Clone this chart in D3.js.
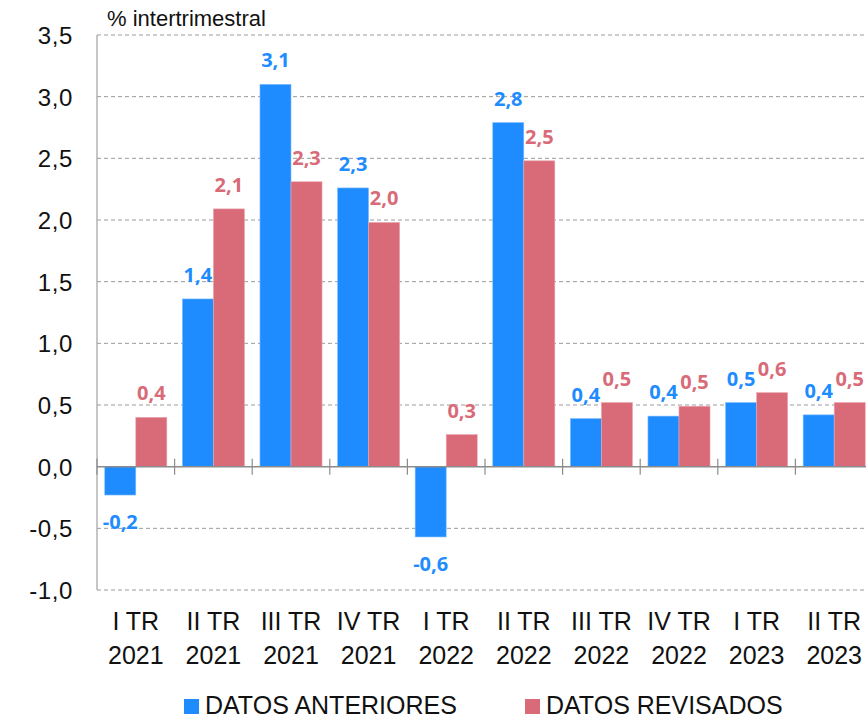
<!DOCTYPE html>
<html>
<head>
<meta charset="utf-8">
<script src="https://cdn.jsdelivr.net/npm/d3@7"></script>
<style>
  body { margin: 0; background: #fff; }
  svg { display: block; font-family: "Liberation Sans", Arial, sans-serif; }
</style>
</head>
<body>
<div id="app"></div>
<script>
const width = 866,
    height = 720;

// quarters (two-line labels)
const quarters = ["I TR", "II TR", "III TR", "IV TR", "I TR", "II TR", "III TR", "IV TR", "I TR", "II TR"];
const years = ["2021", "2021", "2021", "2021", "2022", "2022", "2022", "2022", "2023", "2023"];

const seriesNames = ["DATOS ANTERIORES", "DATOS REVISADOS"];
const anteriores = [-0.23, 1.36, 3.10, 2.26, -0.57, 2.79, 0.39, 0.41, 0.52, 0.42];
const revisados = [0.40, 2.09, 2.31, 1.98, 0.26, 2.48, 0.52, 0.49, 0.60, 0.52];

const yTicks = [-1, -0.5, 0, 0.5, 1, 1.5, 2, 2.5, 3, 3.5];

const colors = ["#1E8CFF", "#D96B78"];

const plotLeft = 97, plotTop = 35, plotBottom = 590, step = 77.6;

const cats = quarters.map((q, i) => i);

const x0 = d3.scaleBand().domain(cats).range([plotLeft, plotLeft + step * cats.length]);
const x1 = d3.scaleBand().domain([0, 1]).range([0, x0.bandwidth()]).paddingOuter(0.25);
const y = d3.scaleLinear().domain([-1, 3.5]).range([plotBottom, plotTop]);

const fmt = v => v.toFixed(1).replace(".", ",");

const svg = d3.select("#app")
    .append("svg")
    .attr("width", width)
    .attr("height", height);

//Gridlines
svg.append("g").selectAll("line")
    .data(yTicks.filter(d => d !== 0)).enter()
    .append("line")
    .attr("x1", plotLeft)
    .attr("x2", width)
    .attr("y1", d => y(d))
    .attr("y2", d => y(d))
    .attr("stroke", "#9a9a9a")
    .attr("stroke-width", 1)
    .attr("stroke-dasharray", "4,3");

//Y tick labels
svg.append("g").selectAll("text")
    .data(yTicks).enter()
    .append("text")
    .attr("x", 73)
    .attr("y", d => y(d) + 9)
    .attr("text-anchor", "end")
    .attr("font-size", 24)
    .attr("letter-spacing", 0.6)
    .attr("fill", "#111")
    .text(d => fmt(d));

//Title
svg.append("text")
    .attr("x", 107)
    .attr("y", 26)
    .attr("font-size", 22)
    .attr("fill", "#111")
    .text("% intertrimestral");

//Bars
const data = cats.map(i => [anteriores[i], revisados[i]]);

const groups = svg.append("g").selectAll("g")
    .data(data).enter()
    .append("g")
    .attr("transform", (d, i) => "translate(" + x0(i) + ",0)");

groups.selectAll("rect")
    .data(d => d.map((v, s) => ({v, s}))).enter()
    .append("rect")
    .attr("x", d => x1(d.s))
    .attr("width", x1.bandwidth())
    .attr("y", d => y(Math.max(0, d.v)))
    .attr("height", d => Math.abs(y(d.v) - y(0)))
    .attr("fill", d => colors[d.s])
    .attr("stroke", d => d.s === 0 ? "#7fbfff" : "#eaa7b0")
    .attr("stroke-width", 0.6);

//Value labels
groups.selectAll("text")
    .data(d => d.map((v, s) => ({v, s}))).enter()
    .append("text")
    .attr("x", d => x1(d.s) + x1.bandwidth() / 2)
    .attr("y", d => d.v >= 0 ? y(d.v) - 17 : y(d.v) + 34)
    .attr("text-anchor", "middle")
    .attr("font-family", "'Open Sans', sans-serif")
    .attr("font-weight", "bold")
    .attr("font-size", 20)
    .attr("fill", d => colors[d.s])
    .text(d => fmt(d.v));

//Y axis line
svg.append("line")
    .attr("x1", plotLeft).attr("x2", plotLeft)
    .attr("y1", plotTop).attr("y2", plotBottom)
    .attr("stroke", "#a0a0a0")
    .attr("stroke-width", 1.2);

//Zero line with category ticks
svg.append("line")
    .attr("x1", plotLeft).attr("x2", width)
    .attr("y1", y(0)).attr("y2", y(0))
    .attr("stroke", "#8c8c8c")
    .attr("stroke-width", 1.5);

svg.append("g").selectAll("line")
    .data(cats.concat([cats.length])).enter()
    .append("line")
    .attr("x1", i => plotLeft + i * step)
    .attr("x2", i => plotLeft + i * step)
    .attr("y1", y(0) - 8)
    .attr("y2", y(0) + 8)
    .attr("stroke", "#8c8c8c")
    .attr("stroke-width", 1.2);

//X labels
const xl = svg.append("g").selectAll("text")
    .data(cats).enter()
    .append("text")
    .attr("text-anchor", "middle")
    .attr("font-size", 25)
    .attr("fill", "#111");

xl.append("tspan")
    .attr("x", i => x0(i) + x0.bandwidth() / 2)
    .attr("y", 630)
    .text(i => quarters[i]);

xl.append("tspan")
    .attr("x", i => x0(i) + x0.bandwidth() / 2)
    .attr("y", 664)
    .text(i => years[i]);

//Legend
const legendX = [184, 525];
const legend = svg.append("g").selectAll("g")
    .data(seriesNames).enter()
    .append("g")
    .attr("transform", (d, i) => "translate(" + legendX[i] + ",0)");

legend.append("rect")
    .attr("x", 0).attr("y", 699)
    .attr("width", 15).attr("height", 15)
    .attr("fill", (d, i) => colors[i]);

legend.append("text")
    .attr("x", 21)
    .attr("y", 714)
    .attr("font-size", 25)
    .attr("fill", "#111")
    .text(d => d);
</script>
</body>
</html>
